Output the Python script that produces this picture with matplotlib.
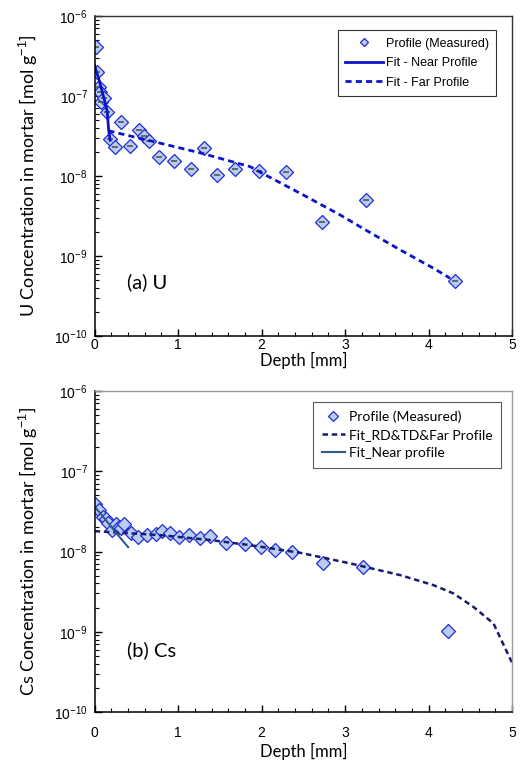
import numpy as np
import matplotlib.pyplot as plt
from matplotlib.ticker import FixedLocator

plt.rcParams['font.family'] = ['Liberation Sans', 'DejaVu Sans']
plt.rcParams['mathtext.fontset'] = 'custom'
plt.rcParams['mathtext.rm'] = 'Liberation Sans'
plt.rcParams['mathtext.it'] = 'Liberation Sans:italic'
plt.rcParams['mathtext.bf'] = 'Liberation Sans:bold'
plt.rcParams['axes.unicode_minus'] = False
label_font = ['Lato', 'DejaVu Sans']

# (a) U profile - measured
u_depth = [0.018, 0.03, 0.054, 0.066, 0.074, 0.117, 0.15, 0.186, 0.245, 0.317,
           0.428, 0.535, 0.59, 0.656, 0.776, 0.952, 1.153, 1.311, 1.463, 1.678,
           1.964, 2.293, 2.725, 3.248, 4.317]
u_conc = [4.10e-7, 1.98e-7, 1.29e-7, 1.11e-7, 8.5e-8, 9.4e-8, 6.27e-8, 2.94e-8,
          2.30e-8, 4.73e-8, 2.37e-8, 3.79e-8, 3.13e-8, 2.75e-8, 1.71e-8, 1.56e-8,
          1.23e-8, 2.27e-8, 1.03e-8, 1.21e-8, 1.16e-8, 1.12e-8, 2.66e-9, 5.06e-9,
          4.83e-10]

# (a) U fits
u_near_x = [0.0, 0.054, 0.114, 0.15, 0.168, 0.186]
u_near_y = [2.39e-7, 1.58e-7, 9.2e-8, 6.5e-8, 3.76e-8, 2.8e-8]
u_far_x = [0.165, 0.665, 1.263, 1.862, 1.98, 2.461, 2.94, 3.26, 3.66, 4.058, 4.257]
u_far_y = [3.68e-8, 2.76e-8, 1.95e-8, 1.31e-8, 1.12e-8, 6.08e-9, 3.26e-9,
           2.07e-9, 1.19e-9, 7.02e-10, 5.26e-10]

# (b) Cs profile - measured
cs_depth = [0.002, 0.05, 0.102, 0.138, 0.162, 0.21, 0.261, 0.29, 0.314, 0.353,
            0.434, 0.521, 0.632, 0.74, 0.808, 0.9, 1.008, 1.132, 1.26, 1.387,
            1.575, 1.802, 1.994, 2.158, 2.365, 2.74, 3.212, 4.23]
cs_conc = [3.86e-8, 3.28e-8, 2.71e-8, 2.54e-8, 2.24e-8, 1.85e-8, 2.18e-8, 2.03e-8,
           1.94e-8, 2.18e-8, 1.71e-8, 1.52e-8, 1.60e-8, 1.63e-8, 1.80e-8, 1.68e-8,
           1.52e-8, 1.60e-8, 1.48e-8, 1.56e-8, 1.29e-8, 1.24e-8, 1.15e-8, 1.04e-8,
           1.00e-8, 7.11e-9, 6.45e-9, 1.02e-9]

# (b) Cs fits
cs_far_x = [0.0, 0.784, 1.383, 1.862, 2.461, 3.06, 3.659, 4.057, 4.297, 4.536,
            4.776, 5.0]
cs_far_y = [1.795e-8, 1.60e-8, 1.39e-8, 1.20e-8, 9.64e-9, 7.11e-9, 5.08e-9,
            3.81e-9, 3.0e-9, 2.04e-9, 1.27e-9, 4.07e-10]
cs_near_x = [0.0, 0.08, 0.162, 0.28, 0.401]
cs_near_y = [3.6e-8, 2.9e-8, 2.26e-8, 1.6e-8, 1.135e-8]

decades = [1e-10, 1e-9, 1e-8, 1e-7, 1e-6]
marker_face = '#b8cdf0'
marker_edge = '#1f2bd6'

fig = plt.figure(figsize=(5.2, 7.67), dpi=100)
ax1 = fig.add_axes([0.182, 0.562, 0.803, 0.417])
ax2 = fig.add_axes([0.182, 0.0717, 0.803, 0.4185])


def style_axes(ax, ylabel, frame_col, tick_pad, xlab_pad):
    ax.set_yscale('log')
    ax.set_xlim(0, 5)
    ax.set_ylim(1e-10, 1e-6)
    ax.yaxis.set_major_locator(FixedLocator(decades))
    minors = [m * d for d in decades[:-1] for m in range(2, 10)]
    ax.yaxis.set_minor_locator(FixedLocator(minors))
    ax.set_xticks([0, 1, 2, 3, 4, 5])
    ax.set_xticks(np.arange(0, 5.01, 0.2), minor=True)
    ax.tick_params(which='both', direction='in', top=False, right=False,
                   labelsize=10)
    ax.tick_params(axis='x', which='both', pad=tick_pad)
    ax.tick_params(axis='y', which='both', pad=5)
    ax.tick_params(which='major', length=5, width=1)
    ax.tick_params(which='minor', length=3, width=0.8)
    for s in ['left', 'bottom']:
        ax.spines[s].set_color('black')
        ax.spines[s].set_linewidth(1.1)
    for s in ['top', 'right']:
        ax.spines[s].set_color(frame_col)
        ax.spines[s].set_linewidth(1.0)
    ax.set_xlabel('Depth [mm]', family=label_font, fontsize=12,
                  labelpad=xlab_pad)
    ax.set_ylabel(ylabel, family=label_font, fontsize=13, labelpad=10)


# ---- (a) U ----
ax1.plot(u_depth, u_conc, linestyle='none', marker='D', ms=7.5,
         mfc=marker_face, mec=marker_edge, mew=0.9, label='Profile (Measured)')
ax1.plot(u_depth, u_conc, linestyle='none', marker='_', ms=4, mec='#555555',
         mew=1.2)
ax1.plot(u_near_x, u_near_y, color='#0a14c8', lw=2, label='Fit - Near Profile')
ax1.plot(u_far_x, u_far_y, color='#0a14c8', lw=2, linestyle=(0, (2.2, 1.5)),
         label='Fit - Far Profile')
style_axes(ax1, 'U Concentration in mortar [mol g$^{-1}$]', '#333333', 1.5, 0)
ax1.text(0.078, 0.169, '(a) U', transform=ax1.transAxes, family=label_font,
         fontsize=14.5, va='center')
h, l = ax1.get_legend_handles_labels()
leg1 = ax1.legend(h, l, loc='upper right', bbox_to_anchor=(0.962, 0.956),
                  borderaxespad=0, fontsize=9, frameon=True, fancybox=False,
                  edgecolor='black', markerscale=0.5, handlelength=3.0,
                  borderpad=0.6, labelspacing=0.6, handletextpad=0.25)
leg1.get_frame().set_linewidth(0.8)

# ---- (b) Cs ----
ax2.plot(cs_depth, cs_conc, linestyle='none', marker='D', ms=7.5,
         mfc=marker_face, mec=marker_edge, mew=0.9, label='Profile (Measured)')
ax2.plot(cs_far_x, cs_far_y, color='#1a1a6e', lw=1.8,
         linestyle=(0, (2.2, 1.5)), label='Fit_RD&TD&Far Profile')
ax2.plot(cs_near_x, cs_near_y, color='#2e5a88', lw=1.5,
         label='Fit_Near profile')
style_axes(ax2, 'Cs Concentration in mortar [mol g$^{-1}$]', '#999999', 10, 2)
ax2.text(0.078, 0.193, '(b) Cs', transform=ax2.transAxes, family=label_font,
         fontsize=14.5, va='center')
leg2 = ax2.legend(loc='upper right', bbox_to_anchor=(0.974, 0.966),
                  borderaxespad=0, prop={'family': label_font, 'size': 10},
                  frameon=True, fancybox=False, edgecolor='#333333',
                  markerscale=0.7, handlelength=1.7, borderpad=0.6,
                  labelspacing=0.45, handletextpad=0.3)
leg2.get_frame().set_linewidth(0.8)

fig.savefig('out.png', dpi=100)
